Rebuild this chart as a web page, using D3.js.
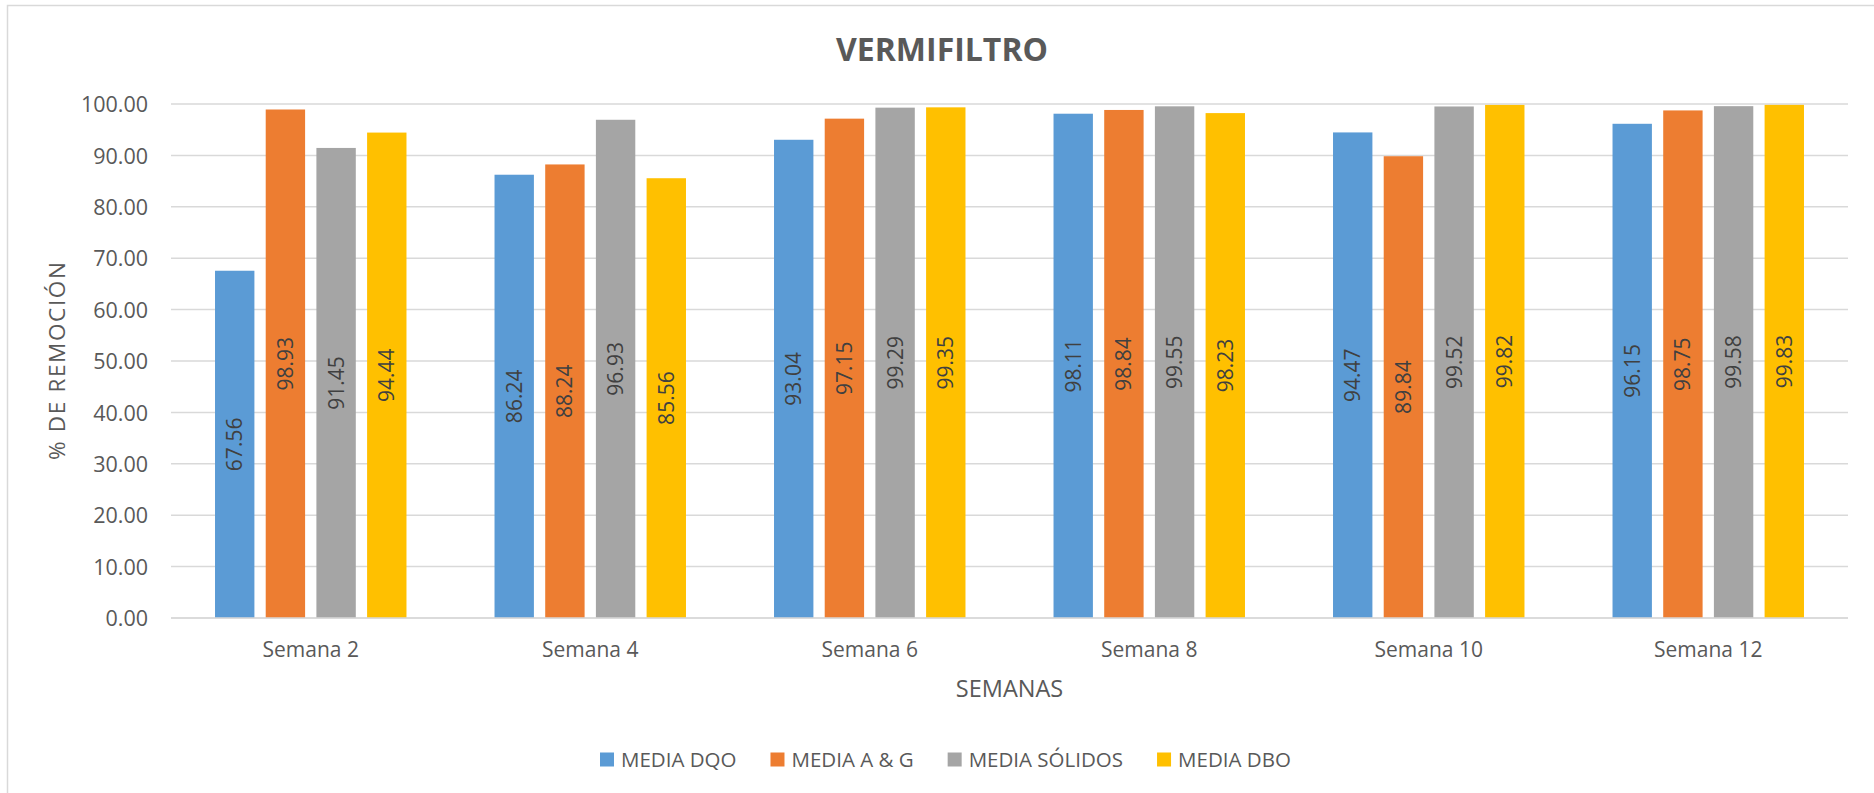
<!DOCTYPE html>
<html>
<head>
<meta charset="utf-8">
<script src="https://cdn.jsdelivr.net/npm/d3@7"></script>
<style>
  html, body { margin: 0; padding: 0; background: #fff; }
  svg { display: block; font-family: "Open Sans", "DejaVu Sans", sans-serif; }
</style>
</head>
<body>
<svg id="chart" width="1874" height="793"></svg>
<script>
// datos
const semanas = ['Semana 2', 'Semana 4', 'Semana 6', 'Semana 8', 'Semana 10', 'Semana 12'];
const series = ['MEDIA DQO', 'MEDIA A & G', 'MEDIA SÓLIDOS', 'MEDIA DBO'];
const mediaDQO    = [67.56, 86.24, 93.04, 98.11, 94.47, 96.15];
const mediaAG     = [98.93, 88.24, 97.15, 98.84, 89.84, 98.75];
const mediaSolidos = [91.45, 96.93, 99.29, 99.55, 99.52, 99.58];
const mediaDBO    = [94.44, 85.56, 99.35, 98.23, 99.82, 99.83];
const yTicks = [0, 10, 20, 30, 40, 50, 60, 70, 80, 90, 100];
const colores = ['#5B9BD5', '#ED7D31', '#A5A5A5', '#FFC000'];

const valores = [mediaDQO, mediaAG, mediaSolidos, mediaDBO];
const textColor = '#595959';

const svg = d3.select('#chart');

// marco del gráfico
svg.append('rect')
  .attr('x', 7.5).attr('y', 5.5)
  .attr('width', 1900).attr('height', 900)
  .attr('fill', 'none')
  .attr('stroke', '#D9D9D9')
  .attr('stroke-width', 1.5);

const plot = { left: 171, right: 1848, top: 104, bottom: 618 };

const x0 = d3.scaleBand()
  .domain(semanas)
  .range([plot.left, plot.right])
  .paddingInner(0.315)
  .paddingOuter(0.1575);

const x1 = d3.scaleBand()
  .domain(series)
  .range([0, x0.bandwidth()])
  .paddingInner(0.223)
  .paddingOuter(0);

const y = d3.scaleLinear()
  .domain([0, 100])
  .range([plot.bottom, plot.top]);

// líneas de cuadrícula
svg.append('g')
  .selectAll('line')
  .data(yTicks)
  .join('line')
  .attr('x1', plot.left)
  .attr('x2', plot.right)
  .attr('y1', d => y(d))
  .attr('y2', d => y(d))
  .attr('stroke', '#D9D9D9')
  .attr('stroke-width', 1.5);

// etiquetas del eje Y
const yAxis = d3.axisLeft(y)
  .tickValues(yTicks)
  .tickFormat(d3.format('.2f'))
  .tickSize(0)
  .tickPadding(23);

const gy = svg.append('g')
  .attr('transform', `translate(${plot.left},0)`)
  .call(yAxis);
gy.select('.domain').remove();
gy.selectAll('text')
  .attr('font-family', '"Open Sans", sans-serif')
  .attr('font-size', 21.5)
  .attr('fill', textColor)
  .attr('dy', '0.36em');

// barras
const grupos = svg.append('g')
  .selectAll('g')
  .data(semanas)
  .join('g')
  .attr('transform', d => `translate(${x0(d)},0)`);

grupos.selectAll('rect')
  .data((d, i) => series.map((s, j) => ({ serie: s, j, v: valores[j][i] })))
  .join('rect')
  .attr('x', d => x1(d.serie))
  .attr('y', d => y(d.v))
  .attr('width', x1.bandwidth())
  .attr('height', d => y(0) - y(d.v))
  .attr('fill', d => colores[d.j]);

// etiquetas de datos (rotadas)
grupos.selectAll('text')
  .data((d, i) => series.map((s, j) => ({ serie: s, j, v: valores[j][i] })))
  .join('text')
  .attr('transform', d => {
    const cx = x1(d.serie) + x1.bandwidth() / 2;
    const cy = (y(d.v) + y(0)) / 2;
    return `translate(${cx},${cy}) rotate(-90)`;
  })
  .attr('text-anchor', 'middle')
  .attr('dy', '0.36em')
  .attr('font-size', 21)
  .attr('fill', '#404040')
  .text(d => d3.format('.2f')(d.v));

// eje X
const xAxis = d3.axisBottom(x0).tickSize(0).tickPadding(0);
const gx = svg.append('g')
  .attr('transform', `translate(0,${plot.bottom})`)
  .call(xAxis);
gx.select('.domain').remove();
gx.selectAll('text')
  .attr('font-family', '"Open Sans", sans-serif')
  .attr('font-size', 21)
  .attr('fill', textColor)
  .attr('y', 39)
  .attr('dy', 0);

// línea base
svg.append('line')
  .attr('x1', plot.left).attr('x2', plot.right)
  .attr('y1', y(0)).attr('y2', y(0))
  .attr('stroke', '#D9D9D9')
  .attr('stroke-width', 1.5);

// título
svg.append('text')
  .attr('x', 942)
  .attr('y', 61)
  .attr('text-anchor', 'middle')
  .attr('font-size', 32)
  .attr('font-weight', 'bold')
  .attr('fill', textColor)
  .text('VERMIFILTRO');

// título eje X
svg.append('text')
  .attr('x', (plot.left + plot.right) / 2)
  .attr('y', 696.5)
  .attr('text-anchor', 'middle')
  .attr('font-size', 23.5)
  .attr('fill', textColor)
  .text('SEMANAS');

// título eje Y
svg.append('text')
  .attr('transform', `translate(65,${(plot.top + plot.bottom) / 2}) rotate(-90)`)
  .attr('text-anchor', 'middle')
  .attr('font-size', 22.5)
  .attr('fill', textColor)
  .attr('textLength', 198)
  .attr('lengthAdjust', 'spacing')
  .text('% DE REMOCIÓN');

// leyenda
const leyenda = svg.append('g');
let lx = 600;
series.forEach((s, j) => {
  const item = leyenda.append('g').attr('transform', `translate(${lx},0)`);
  item.append('rect')
    .attr('x', 0).attr('y', 752.5)
    .attr('width', 14).attr('height', 14)
    .attr('fill', colores[j]);
  const t = item.append('text')
    .attr('x', 21)
    .attr('y', 767)
    .attr('font-size', 20.5)
    .attr('fill', textColor)
    .text(s);
  lx += 21 + t.node().getComputedTextLength() + 34;
});
</script>
</body>
</html>
